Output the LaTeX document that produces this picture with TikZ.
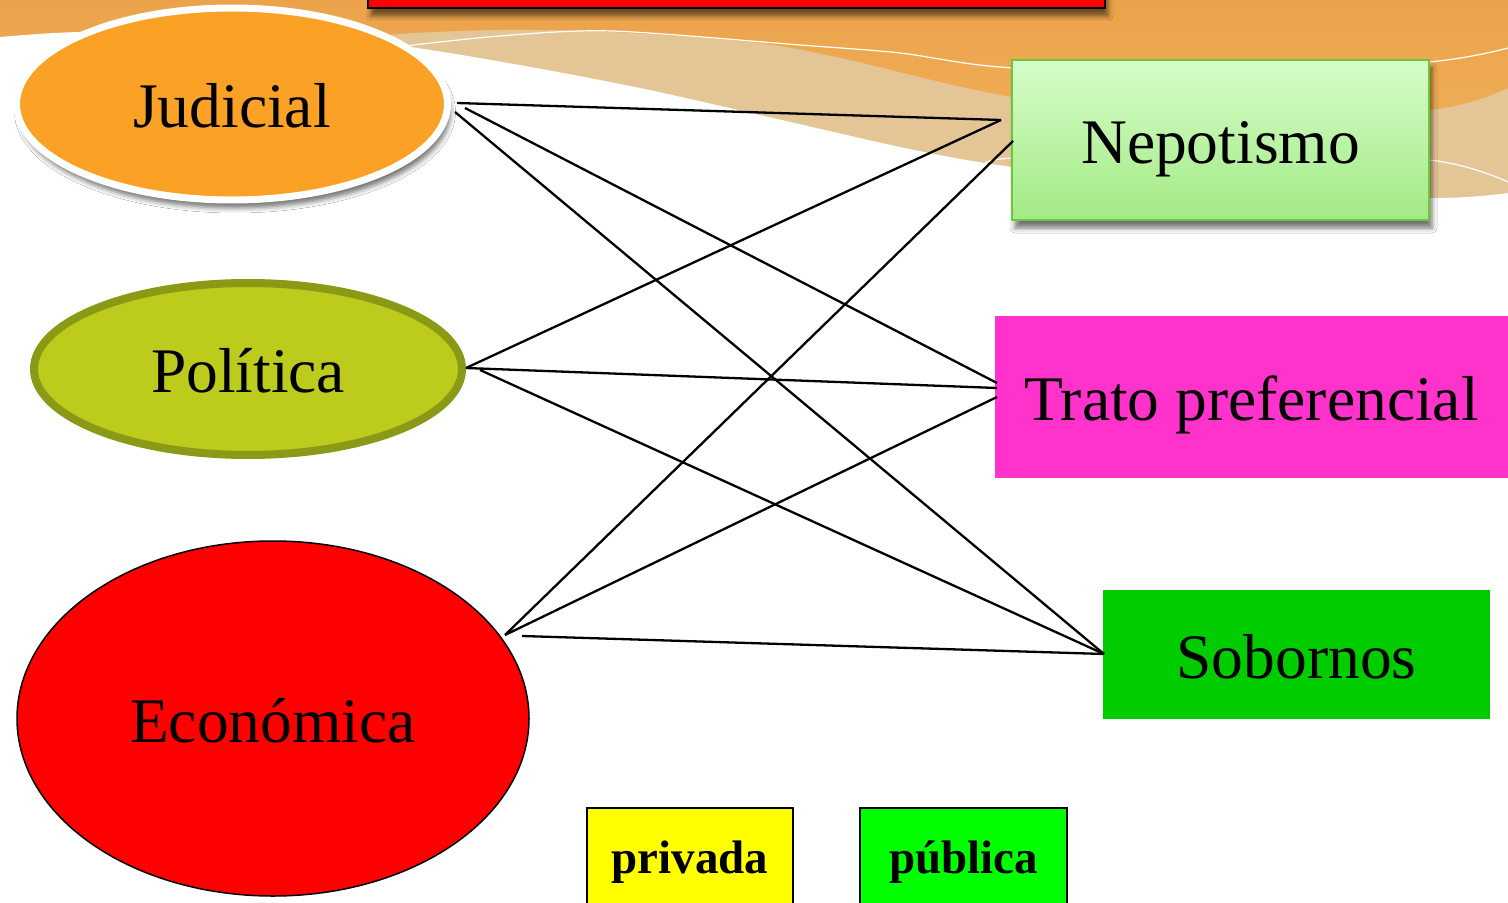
\documentclass[tikz,border=0pt]{standalone}
\usepackage{fontspec}
\setmainfont{Liberation Serif}
\usetikzlibrary{shapes.geometric,shadows.blur}
\definecolor{orTop}{HTML}{EBA34B}
\definecolor{orBot}{HTML}{F5B964}
\definecolor{tanC}{HTML}{E4C596}
\definecolor{judFill}{HTML}{FBA226}
\definecolor{polFill}{HTML}{BCCB1C}
\definecolor{polLine}{HTML}{8A9916}
\definecolor{nepTop}{HTML}{D6FDC9}
\definecolor{nepBot}{HTML}{A3EA84}
\definecolor{nepLine}{HTML}{6DC53D}
\definecolor{tratoC}{HTML}{FF33CC}
\definecolor{sobC}{HTML}{00CC00}
\definecolor{privC}{HTML}{FFFF00}
\definecolor{pubC}{HTML}{00FF00}
\begin{document}
\begin{tikzpicture}[x=0.5pt,y=-0.5pt,
  big/.style={font=\fontsize{31.75pt}{36pt}\selectfont, text=black, text height=30.5pt, text depth=7pt, align=center},
  ell/.style={ellipse, inner sep=0pt, big},
  box/.style={rectangle, inner sep=0pt, big},
  link/.style={line width=1.15pt, black},
  tag/.style={rectangle, draw=black, line width=1pt, inner sep=0pt,
    font=\bfseries\fontsize{23.5pt}{28pt}\selectfont, text height=17pt, text depth=5pt,
    minimum height=53pt},
  softshadow/.style={blur shadow={shadow xshift=1.5pt, shadow yshift=-4pt, shadow blur radius=2.5pt, shadow opacity=55}}
]
\useasboundingbox (0,0) rectangle (1508,903);
% background
\fill[white] (0,0) rectangle (1508,903);
\fill[top color=orTop, bottom color=orBot] (0,0) rectangle (1508,260);
\fill[tanC] plot[smooth] coordinates {(340,42) (400,34) (500,30) (612,32) (750,42) (836,57) (1012,97) (1200,114) (1429,110) (1508,88)} -- (1508,260) -- (340,260) -- cycle;
\fill[white] plot[smooth] coordinates {(0,37) (80,32) (250,31) (417,48) (635,87) (900,147) (1012,167) (1200,190) (1429,198) (1508,193)} -- (1508,903) -- (0,903) -- cycle;
\draw[white, line width=0.6pt] plot[smooth] coordinates {(405,46) (500,36) (612,31) (800,45) (900,53) (1000,67) (1200,76) (1429,62) (1508,48)};
\draw[white, line width=0.6pt] plot[smooth] coordinates {(985,164) (1012,158) (1200,150) (1429,160) (1508,182)};
% title bar (cut off at top)
\node (title) [rectangle, fill=red, draw=black, line width=1pt, minimum width=368.5pt, minimum height=28pt, inner sep=0pt, softshadow] at (736.5,-20) {};
% left ellipses
\node (jud) [ell, fill=judFill, draw=white, line width=3.5pt, minimum width=215.5pt, minimum height=96pt, softshadow] at (232,104) {Judicial};
\node (pol) [ell, fill=polFill, draw=polLine, line width=4pt, minimum width=214pt, minimum height=86pt] at (248,369) {Política};
\node (eco) [ell, fill=red, draw=black, line width=0.75pt, minimum width=256pt, minimum height=177.5pt] at (273,718.5) {Económica};
% right boxes
\node (nep) [box, top color=nepTop, bottom color=nepBot, draw=nepLine, line width=1pt, minimum width=208.5pt, minimum height=80pt, softshadow] at (1220.5,140) {Nepotismo};
\node (tra) [box, fill=tratoC, minimum width=256.5pt, minimum height=81pt] at (1251.5,397) {Trato preferencial};
\node (sob) [box, fill=sobC, minimum width=193.5pt, minimum height=64.5pt] at (1296.5,654.5) {Sobornos};
% bottom tags
\node (priv) [tag, fill=privC, minimum width=103pt] at (690,861) {privada};
\node (pub) [tag, fill=pubC, minimum width=103.5pt] at (963.5,861) {pública};
% connector end points
\coordinate (j1) at (457,103);
\coordinate (j2) at (465,108);
\coordinate (j3) at (455,112);
\coordinate (p1) at (466,368);
\coordinate (p3) at (480,370);
\coordinate (e1) at (505,635);
\coordinate (e3) at (522,636);
\coordinate (n1) at (1001,120);
\coordinate (n2) at (1013,141);
\coordinate (t1) at (997,383);
\coordinate (t2) at (997,388);
\coordinate (t3) at (997,397);
\coordinate (s1) at (1104,654);
% connectors
\draw[link] (j1) -- (n1);
\draw[link] (j2) -- (t1);
\draw[link] (j3) -- (s1);
\draw[link] (p1) -- (n1);
\draw[link] (p1) -- (t2);
\draw[link] (p3) -- (s1);
\draw[link] (e1) -- (n2);
\draw[link] (e1) -- (t3);
\draw[link] (e3) -- (s1);
\end{tikzpicture}
\end{document}
